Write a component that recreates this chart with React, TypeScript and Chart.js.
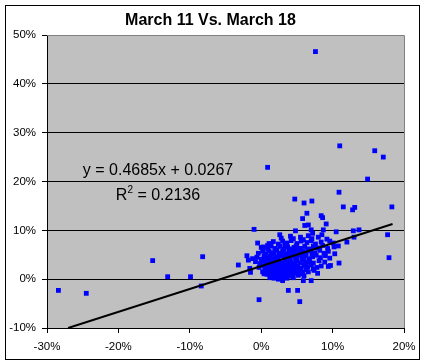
import { useEffect, useRef } from "react";
import { Chart, registerables } from "chart.js";

Chart.register(...registerables);

const chartTitle = "March 11 Vs. March 18";
const xTickValues = [-30, -20, -10, 0, 10, 20];
const yTickValues = [-10, 0, 10, 20, 30, 40, 50];

// [March 11 change %, March 18 change %]
const outlierPoints: [number, number][] = [
  [7.6, 46.6], [11.0, 27.3], [15.9, 26.3], [17.1, 25.0], [14.9, 20.5], [0.9, 22.9],
  [10.9, 17.8], [4.7, 16.4], [6.0, 15.6], [7.1, 16.0], [11.5, 14.8], [12.8, 14.2],
  [13.1, 14.7], [18.3, 14.8], [6.4, 13.5], [5.8, 12.4], [8.4, 13.0], [8.6, 12.6],
  [9.1, 11.3], [6.1, 11.0], [6.6, 11.1], [-1.0, 10.2], [4.8, 9.9], [12.9, 9.9],
  [13.7, 10.1], [10.5, 9.7], [17.7, 9.1], [7.0, 10.1], [7.2, 9.4], [8.5, 9.1],
  [8.7, 10.1], [10.8, 6.8], [12.0, 7.6], [13.0, 8.6], [17.9, 4.4], [10.9, 3.3],
  [10.3, 5.2], [9.7, 2.8], [9.4, 2.6], [7.9, 1.2], [7.0, -0.3], [5.9, -0.3],
  [3.8, -2.3], [5.1, -2.3], [5.4, -4.6], [-0.3, -4.2], [3.0, -0.3], [6.0, 0.7],
  [7.3, 2.1], [-28.4, -2.3], [-24.5, -2.9], [-15.2, 3.8], [-13.1, 0.5], [-9.9, 0.5],
  [-8.2, 4.6], [-8.4, -1.4], [-3.2, 2.9], [-2.0, 4.8], [-1.8, 3.9], [-1.6, 2.2],
  [-1.5, 1.4], [-0.5, 7.4], [0.3, 6.6], [0.9, 6.9], [2.6, 9.1],
];

const clusterPoints: [number, number][] = [
  [1.2, 0.3], [1.8, 0.2], [2.3, 0.5], [2.9, 0.1], [3.4, 0.4], [4.0, 0.6], [4.5, 0.3],
  [1.5, 0.9], [2.6, 0.8], [3.1, 0.9], [3.8, 1.0], [4.3, 0.9], [5.2, 0.8], [0.8, 1.0],
  [2.0, 0.7], [3.6, 0.2], [2.4, 0.0],
  [0.2, 1.5], [0.6, 1.8], [1.0, 1.3], [1.4, 1.6], [1.9, 1.2], [2.2, 1.9], [2.7, 1.4],
  [3.0, 1.7], [3.5, 1.3], [3.9, 1.8], [4.4, 1.5], [4.8, 1.2], [5.3, 1.7], [5.8, 1.4],
  [6.3, 1.9], [0.4, 1.1], [1.6, 1.9], [2.5, 1.1], [3.3, 1.9], [4.1, 1.2], [4.6, 1.9],
  [5.5, 1.1], [6.6, 1.5], [7.4, 1.8],
  [-0.3, 2.4], [0.1, 2.8], [0.5, 2.2], [0.9, 2.6], [1.3, 2.3], [1.7, 2.9], [2.1, 2.5],
  [2.4, 2.1], [2.8, 2.7], [3.2, 2.3], [3.6, 2.9], [4.0, 2.4], [4.3, 2.8], [4.7, 2.2],
  [5.1, 2.7], [5.6, 2.3], [6.0, 2.8], [6.5, 2.5], [7.0, 2.9], [7.8, 2.4], [8.4, 2.7],
  [1.1, 2.0], [2.6, 2.9], [3.8, 2.1], [5.3, 2.0], [0.7, 2.9], [1.5, 2.1], [4.5, 2.6],
  [-0.8, 3.6], [-0.2, 3.2], [0.3, 3.8], [0.7, 3.3], [1.0, 3.9], [1.4, 3.4], [1.8, 3.7],
  [2.2, 3.1], [2.5, 3.6], [2.9, 3.3], [3.3, 3.9], [3.7, 3.2], [4.1, 3.7], [4.5, 3.3],
  [4.9, 3.8], [5.4, 3.4], [5.9, 3.9], [6.3, 3.2], [6.8, 3.6], [7.3, 3.3], [8.1, 3.8],
  [8.9, 3.5], [1.2, 3.0], [3.0, 3.0], [4.7, 3.1], [6.1, 3.5], [2.0, 3.5],
  [-1.2, 4.2], [-0.6, 4.5], [0.0, 4.1], [0.4, 4.7], [0.8, 4.3], [1.2, 4.8], [1.6, 4.2],
  [2.0, 4.6], [2.4, 4.1], [2.8, 4.9], [3.2, 4.4], [3.6, 4.8], [4.0, 4.2], [4.4, 4.7],
  [4.8, 4.3], [5.2, 4.9], [5.7, 4.4], [6.2, 4.8], [6.7, 4.2], [7.2, 4.6], [7.7, 4.9],
  [8.3, 4.4], [9.0, 4.8], [9.6, 4.3], [3.4, 4.0], [5.0, 4.0], [6.0, 4.5], [1.9, 4.0],
  [-0.4, 5.3], [0.2, 5.7], [0.6, 5.2], [1.1, 5.8], [1.5, 5.4], [2.0, 5.9], [2.5, 5.3],
  [3.0, 5.7], [3.5, 5.2], [3.9, 5.8], [4.3, 5.4], [4.8, 5.9], [5.3, 5.3], [5.8, 5.7],
  [6.3, 5.2], [6.9, 5.8], [7.5, 5.4], [8.2, 5.9], [8.8, 5.3], [9.4, 5.7], [2.7, 5.0],
  [4.1, 5.0], [5.6, 5.0], [7.1, 5.1],
  [0.0, 6.5], [0.9, 6.2], [1.4, 6.8], [1.9, 6.3], [2.6, 6.7], [3.2, 6.1], [3.7, 6.6],
  [4.3, 6.2], [4.9, 6.8], [5.5, 6.3], [6.1, 6.7], [6.7, 6.2], [7.3, 6.8], [7.9, 6.4],
  [8.6, 6.9], [9.3, 6.3], [10.2, 6.6], [2.2, 6.0], [4.6, 6.5], [6.9, 6.0],
  [1.1, 7.3], [1.7, 7.7], [2.4, 7.2], [3.0, 7.8], [3.6, 7.4], [4.2, 7.9], [5.0, 7.3],
  [5.6, 7.8], [6.4, 7.5], [7.0, 7.9], [7.6, 7.2], [8.4, 7.6], [9.6, 7.8], [10.1, 7.4],
  [3.3, 7.0],
  [2.8, 8.4], [4.1, 8.8], [4.5, 8.3], [5.5, 8.6], [6.6, 8.9], [7.1, 8.3], [8.0, 8.6],
  [9.2, 8.2], [5.9, 8.1],
  [1.3, 1.0], [2.1, 1.5], [2.9, 2.0], [3.5, 2.6], [1.0, 3.5], [1.6, 2.6], [2.3, 4.3],
  [3.1, 4.8], [3.9, 4.5], [4.6, 5.6], [5.4, 6.0], [6.5, 5.9], [0.5, 4.0], [1.8, 5.1],
];

const trendSlope = 0.4685;
const trendIntercept = 0.0267;
const trendR2 = 0.2136;
const trendXRange = [-27.04, 18.4];

const FONT = "'Liberation Sans', Arial, sans-serif";

export default function App() {
  const canvasRef = useRef<HTMLCanvasElement | null>(null);

  useEffect(() => {
    const canvas = canvasRef.current;
    if (!canvas) return;

    const scatterData = [...outlierPoints, ...clusterPoints].map(([x, y]) => ({ x, y }));
    const trendData = trendXRange.map((x) => ({ x, y: trendSlope * x + trendIntercept * 100 }));

    const decorPlugin = {
      id: "decor",
      beforeDraw(chart: any) {
        const { ctx, chartArea: a } = chart;
        ctx.save();
        ctx.fillStyle = "#ffffff";
        ctx.fillRect(0, 0, chart.width, chart.height);
        ctx.fillStyle = "#c0c0c0";
        ctx.fillRect(a.left, a.top, a.right - a.left, a.bottom - a.top);
        ctx.restore();
      },
      beforeDatasetsDraw(chart: any) {
        const { ctx, chartArea: a } = chart;
        ctx.save();
        ctx.strokeStyle = "#808080";
        ctx.lineWidth = 1;
        ctx.beginPath();
        ctx.moveTo(a.left, Math.round(a.top) + 0.5);
        ctx.lineTo(Math.round(a.right) + 0.5, Math.round(a.top) + 0.5);
        ctx.lineTo(Math.round(a.right) + 0.5, a.bottom);
        ctx.stroke();
        ctx.restore();
      },
      afterDraw(chart: any) {
        const { ctx } = chart;
        ctx.save();
        ctx.strokeStyle = "#000000";
        ctx.lineWidth = 1;
        ctx.strokeRect(5.5, 5.5, 414, 354);
        ctx.fillStyle = "#000000";
        ctx.textBaseline = "alphabetic";
        ctx.textAlign = "center";
        ctx.font = `bold 16px ${FONT}`;
        ctx.fillText(chartTitle, 210.5, 25);
        const cx = 158;
        ctx.font = `16px ${FONT}`;
        ctx.fillText(`y = ${trendSlope}x + ${trendIntercept}`, cx, 175);
        const rest = ` = ${trendR2}`;
        const wR = ctx.measureText("R").width;
        const wRest = ctx.measureText(rest).width;
        ctx.font = `10px ${FONT}`;
        const wSup = ctx.measureText("2").width;
        const total = wR + wSup + wRest;
        const x0 = cx - total / 2;
        ctx.textAlign = "left";
        ctx.font = `16px ${FONT}`;
        ctx.fillText("R", x0, 199.5);
        ctx.font = `10px ${FONT}`;
        ctx.fillText("2", x0 + wR, 192.5);
        ctx.font = `16px ${FONT}`;
        ctx.fillText(rest, x0 + wR + wSup, 199.5);
        ctx.restore();
      },
    };

    const chart = new Chart(canvas, {
      type: "scatter",
      data: {
        datasets: [
          {
            type: "line",
            label: "Trend",
            data: trendData,
            borderColor: "#000000",
            borderWidth: 2,
            pointRadius: 0,
            fill: false,
          } as any,
          {
            label: "Points",
            data: scatterData,
            backgroundColor: "#0000ff",
            borderWidth: 0,
            pointStyle: "rect",
            pointRadius: 3.4,
          },
        ],
      },
      options: {
        animation: false,
        responsive: false,
        devicePixelRatio: 1,
        layout: { padding: { left: 0, right: 22, top: 35, bottom: 0 } },
        plugins: {
          legend: { display: false },
          title: { display: false },
          tooltip: { enabled: false },
        },
        scales: {
          x: {
            type: "linear",
            min: xTickValues[0],
            max: xTickValues[xTickValues.length - 1],
            afterFit: (s: any) => {
              s.height = 36;
            },
            afterBuildTicks: (s: any) => {
              s.ticks = xTickValues.map((v) => ({ value: v }));
            },
            ticks: {
              autoSkip: false,
              maxRotation: 0,
              padding: 7,
              color: "#000000",
              font: { family: FONT, size: 11.5 },
              callback: (v: any) => `${v}%`,
            },
            grid: {
              drawOnChartArea: false,
              drawTicks: true,
              tickLength: 5,
              color: "#000000",
              tickColor: "#000000",
            },
            border: { color: "#000000", width: 1 },
          },
          y: {
            type: "linear",
            min: yTickValues[0],
            max: yTickValues[yTickValues.length - 1],
            afterFit: (s: any) => {
              s.width = 47;
            },
            afterBuildTicks: (s: any) => {
              s.ticks = yTickValues.map((v) => ({ value: v }));
            },
            ticks: {
              padding: 6,
              color: "#000000",
              font: { family: FONT, size: 11.5 },
              callback: (v: any) => `${v}%`,
            },
            grid: {
              drawTicks: true,
              tickLength: 5,
              color: (c: any) =>
                c.tick && c.tick.value === yTickValues[yTickValues.length - 1]
                  ? "rgba(0,0,0,0)"
                  : "#000000",
              tickColor: "#000000",
            },
            border: { color: "#000000", width: 1 },
          },
        },
      },
      plugins: [decorPlugin],
    });

    return () => {
      chart.destroy();
    };
  }, []);

  return (
    <div style={{ position: "fixed", left: 0, top: 0, width: 426, height: 364, background: "#fff" }}>
      <canvas ref={canvasRef} width={426} height={364} style={{ display: "block", width: 426, height: 364 }} />
    </div>
  );
}
